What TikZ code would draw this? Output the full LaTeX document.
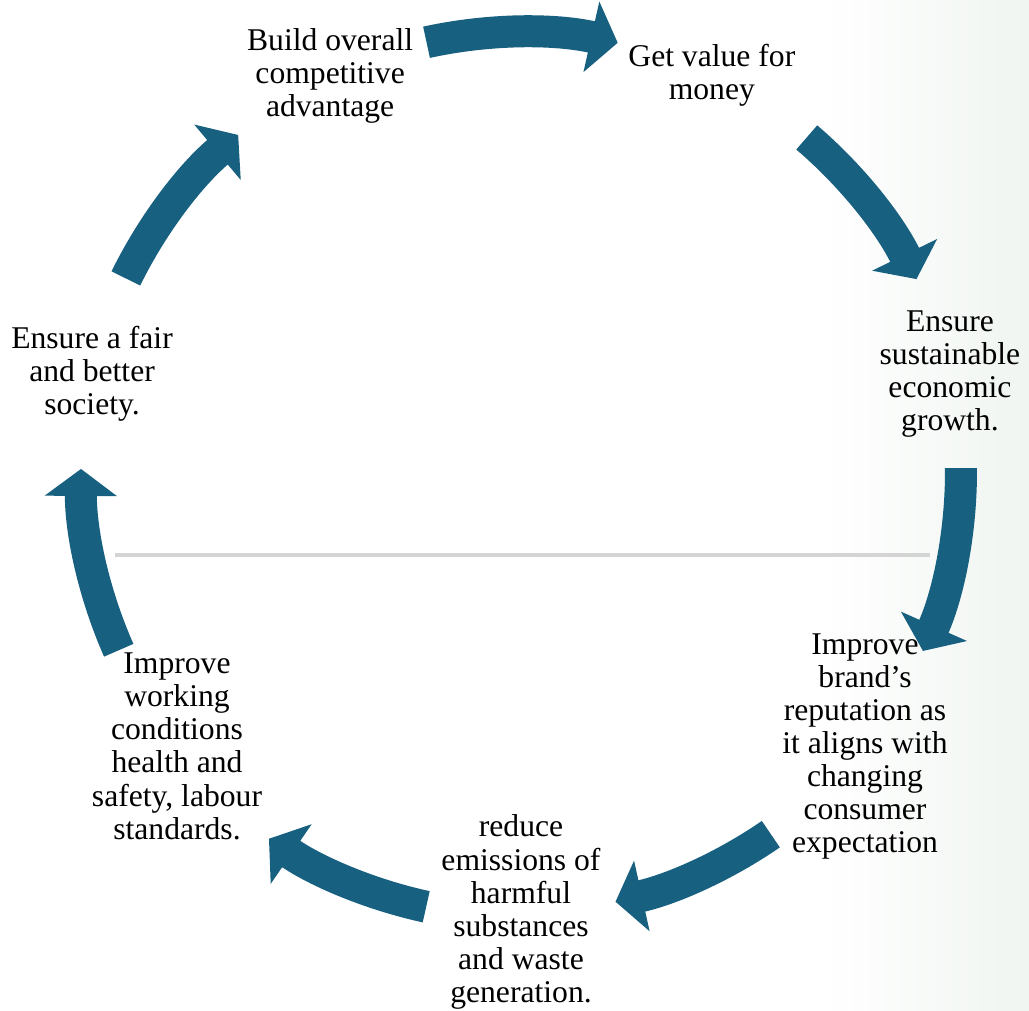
\documentclass[tikz,border=0pt]{standalone}
\usepackage{fontspec}
\setmainfont{Liberation Serif}
\usetikzlibrary{arrows.meta}
\definecolor{cycblue}{RGB}{23,96,128}
\definecolor{bggreen}{RGB}{240,245,241}
\definecolor{rulegray}{RGB}{212,212,212}

\begin{document}
\begin{tikzpicture}[cyc/.style={draw=cycblue, line width=6.4mm, -{Triangle[width=14.2mm,length=5.4mm]}},
  lbl/.style={align=center, inner sep=0pt, font=\fontsize{18}{18.8}\selectfont}]
\useasboundingbox (-10.42,-10.76) rectangle (10.16,9.44);
\shade[left color=white, right color=bggreen] (6,-10.76) rectangle (10.16,9.44);
\coordinate (rl) at (-8.12,-1.66);
\coordinate (rr) at (8.18,-1.66);
\draw[rulegray, line width=2.3pt] (rl) -- (rr);
\node[lbl] (build)   at (115.71:8.8) {Build overall\\competitive\\advantage};
\node[lbl] (value)   at (64.29:8.8)  {Get value for\\money};
\node[lbl] (growth)  at (12.86:8.8)  {Ensure\\sustainable\\economic\\growth.};
\node[lbl] (brand)   at (-38.57:8.8) {Improve\\brand’s\\reputation as\\it aligns with\\changing\\consumer\\expectation};
\node[lbl] (reduce)  at (-90:8.8)    {reduce\\emissions of\\harmful\\substances\\and waste\\generation.};
\node[lbl] (working) at (218.57:8.8) {Improve\\working\\conditions\\health and\\safety, labour\\standards.};
\node[lbl] (society) at (167.14:8.8) {Ensure a fair\\and better\\society.};
\coordinate (t1) at (102.4:8.8);
\coordinate (t2) at (49.5:8.8);
\coordinate (t3) at (0.5:8.8);
\coordinate (t4) at (-55.4:8.8);
\coordinate (t5) at (-102.3:8.9);
\coordinate (t6) at (203.9:8.8);
\coordinate (t7) at (153.9:8.8);
\draw[cyc] (t1) arc[start angle=102.4, end angle=77.3, radius=8.8];
\draw[cyc] (t2) arc[start angle=49.5, end angle=26, radius=8.8];
\draw[cyc] (t3) arc[start angle=0.5, end angle=-24, radius=8.8];
\draw[cyc] (t4) arc[start angle=-55.4, end angle=-77.6, radius=8.8];
\draw[cyc] (t5) arc[start angle=-102.3, end angle=-124.5, radius=8.9];
\draw[cyc] (t6) arc[start angle=203.9, end angle=179.6, radius=8.8];
\draw[cyc] (t7) arc[start angle=153.9, end angle=130, radius=8.8];
\end{tikzpicture}
\end{document}
